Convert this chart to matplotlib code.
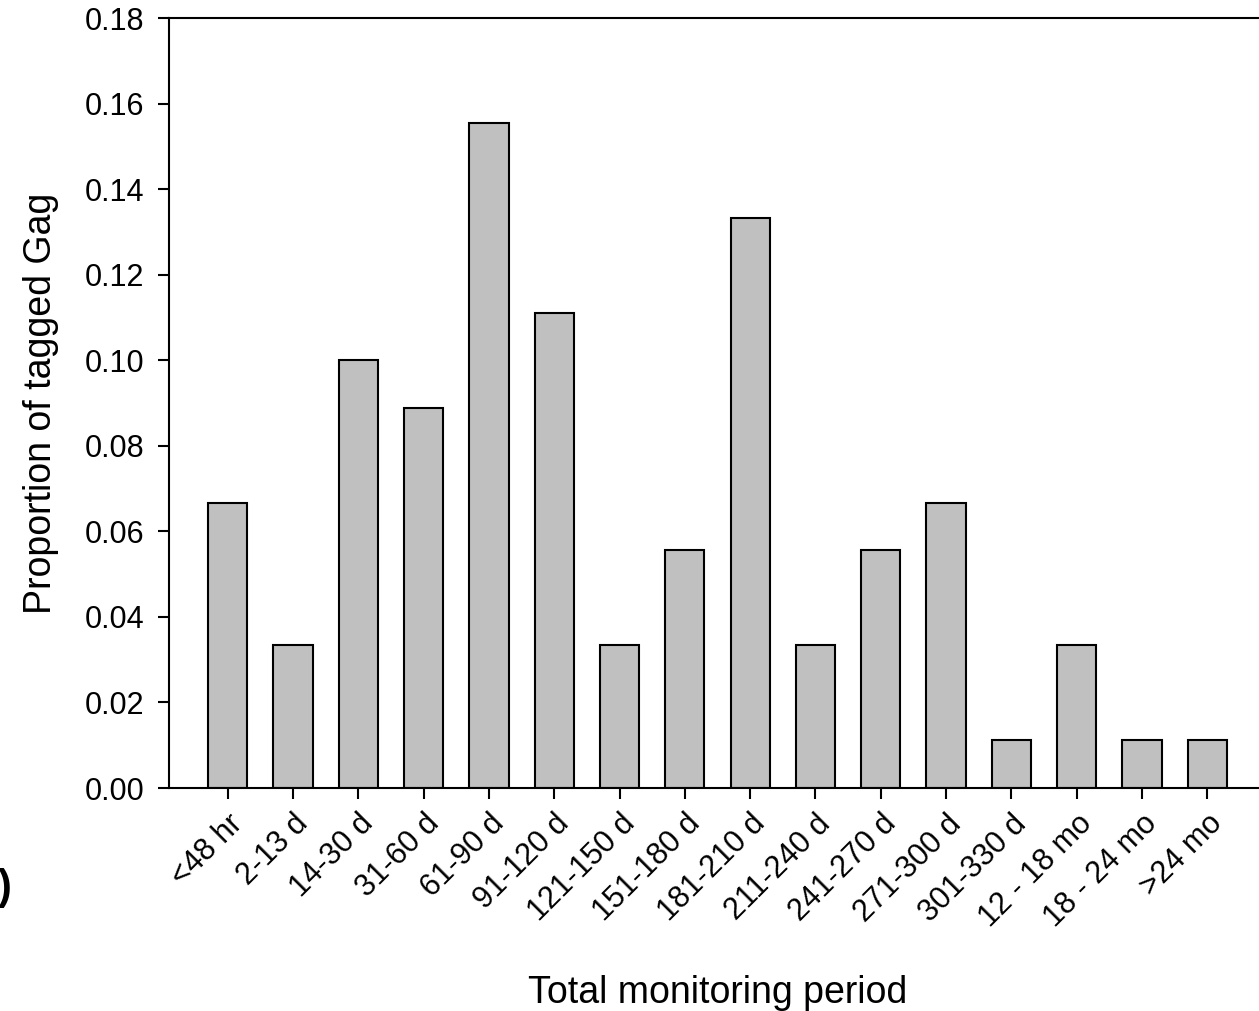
import matplotlib
matplotlib.use("Agg")
import matplotlib.pyplot as plt
import numpy as np

plt.rcParams['font.family'] = ['Liberation Sans', 'DejaVu Sans']

periods = ['<48 hr', '2-13 d', '14-30 d', '31-60 d', '61-90 d', '91-120 d',
           '121-150 d', '151-180 d', '181-210 d', '211-240 d', '241-270 d',
           '271-300 d', '301-330 d', '12 - 18 mo', '18 - 24 mo', '>24 mo']
counts = [6, 3, 9, 8, 14, 10, 3, 5, 12, 3, 5, 6, 1, 3, 1, 1]
total = 90
props = [c / total for c in counts]

fig = plt.figure(figsize=(12.59, 10.11), dpi=100)
W, H = 1259, 1011
ax = fig.add_axes([169 / W, 1 - 788 / H, (1266 - 169) / W, (788 - 18) / H])

x = np.arange(len(periods))
ax.bar(x, props, width=0.6, color='#c0c0c0', edgecolor='black', linewidth=1.5, zorder=2)

ax.set_xlim(-0.9, 15.9)
ax.set_ylim(0, 0.18)
yt = np.arange(0, 0.181, 0.02)
ax.set_yticks(yt)
ax.set_yticklabels(['%.2f' % v for v in yt])
ax.set_xticks(x)
ax.set_xticklabels(periods, rotation=45, ha='right', va='top', rotation_mode='anchor')

ax.spines['right'].set_visible(False)
for s in ['left', 'bottom', 'top']:
    ax.spines[s].set_linewidth(1.5)
ax.tick_params(direction='out', length=8, width=1.5, labelsize=22)
ax.tick_params(axis='y', pad=10)
ax.tick_params(axis='x', pad=7)

ax.set_ylabel('Proportion of tagged Gag', fontsize=27, labelpad=18)
ax.set_xlabel('Total monitoring period', fontsize=27, labelpad=30)

fig.text(-2 / W, 1 - 888 / H, ')', fontsize=30, ha='left', va='center', fontweight='bold')

fig.savefig('out.png', dpi=100)
